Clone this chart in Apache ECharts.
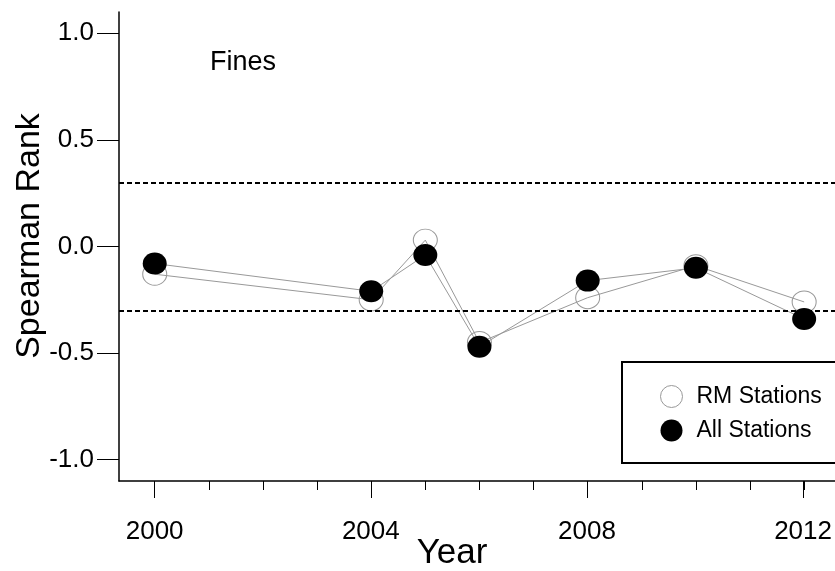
<!DOCTYPE html>
<html>
<head>
<meta charset="utf-8">
<script src="https://cdn.jsdelivr.net/npm/echarts@6/dist/echarts.min.js"></script>
<style>html,body{margin:0;padding:0;background:#fff;}#c{width:835px;height:571px;}</style>
</head>
<body>
<div id="c"></div>
<script>
const years = [2000, 2004, 2005, 2006, 2008, 2010, 2012];
const rmStations = [-0.13, -0.25, 0.03, -0.45, -0.24, -0.09, -0.26];
const allStations = [-0.08, -0.21, -0.04, -0.47, -0.16, -0.10, -0.34];
const thresholds = [0.3, -0.3];
const yTicks = [-1.0, -0.5, 0.0, 0.5, 1.0];
const xMinorTicks = [2000, 2001, 2002, 2003, 2004, 2005, 2006, 2007, 2008, 2009, 2010, 2011, 2012];
const xMajorTicks = [2000, 2004, 2008, 2012];
const seriesNames = ['RM Stations', 'All Stations'];
const panelLabel = 'Fines';
const xName = 'Year';
const yName = 'Spearman Rank';

const FONT = 'Liberation Sans, Arial, sans-serif';
const X_MIN = 1999.34, X_MAX = 2012.57, Y_MIN = -1.1, Y_MAX = 1.1;
const gridPos = {left: 119, right: 0, top: 12, bottom: 90};

const chart = echarts.init(document.getElementById('c'), null, {renderer: 'canvas'});
chart.setOption({
  animation: false,
  backgroundColor: '#fff',
  grid: [Object.assign({}, gridPos), Object.assign({}, gridPos)],
  xAxis: [{
    type: 'value', gridIndex: 0, min: X_MIN, max: X_MAX, position: 'bottom',
    axisLine: {show: true, onZero: false, lineStyle: {color: '#000', width: 1.5}},
    axisTick: {show: true, inside: false, length: 9, customValues: xMinorTicks, lineStyle: {color: '#000', width: 1}},
    axisLabel: {show: false},
    splitLine: {show: false}
  }, {
    type: 'value', gridIndex: 1, min: X_MIN, max: X_MAX, position: 'bottom',
    axisLine: {show: false, onZero: false},
    axisTick: {show: true, inside: false, length: 17, customValues: xMajorTicks, lineStyle: {color: '#000', width: 1}},
    axisLabel: {show: true, customValues: xMajorTicks, margin: 38, fontSize: 26, fontFamily: FONT, color: '#000', formatter: v => String(v)},
    splitLine: {show: false}
  }],
  yAxis: [{
    type: 'value', gridIndex: 0, min: Y_MIN, max: Y_MAX,
    axisLine: {show: true, onZero: false, lineStyle: {color: '#000', width: 1.5}},
    axisTick: {show: true, inside: false, length: 22, customValues: yTicks, lineStyle: {color: '#000', width: 1}},
    axisLabel: {show: true, customValues: yTicks, margin: 25, fontSize: 26, fontFamily: FONT, color: '#000', formatter: v => v.toFixed(1)},
    splitLine: {show: false}
  }, {
    type: 'value', gridIndex: 1, min: Y_MIN, max: Y_MAX, show: false
  }],
  legend: {
    orient: 'vertical', left: 655, top: 380, itemWidth: 24, itemHeight: 22, itemGap: 11,
    textStyle: {fontSize: 23, fontFamily: FONT, color: '#000', padding: [0, 0, 0, 8]},
    data: [
      {name: seriesNames[0], icon: 'circle', itemStyle: {color: 'rgba(255,255,255,0)', borderColor: '#999', borderWidth: 1}},
      {name: seriesNames[1], icon: 'circle', itemStyle: {color: '#000', borderWidth: 0}}
    ]
  },
  graphic: [
    {type: 'rect', shape: {x: 622, y: 362, width: 240, height: 101}, style: {fill: 'none', stroke: '#000', lineWidth: 2}, z: 1},
    {type: 'text', x: 210, y: 63, style: {text: panelLabel, fontSize: 27, fontFamily: FONT, fill: '#000', textVerticalAlign: 'middle'}},
    {type: 'text', x: 452, y: 553, style: {text: xName, fontSize: 35, fontFamily: FONT, fill: '#000', textAlign: 'center', textVerticalAlign: 'middle'}},
    {type: 'text', x: 30, y: 236, rotation: Math.PI / 2, style: {text: yName, fontSize: 34, fontFamily: FONT, fill: '#000', textAlign: 'center', textVerticalAlign: 'middle'}}
  ],
  series: [{
    name: seriesNames[0], type: 'line', xAxisIndex: 0, yAxisIndex: 0,
    data: years.map((y, i) => [y, rmStations[i]]),
    symbol: 'circle', symbolSize: [24, 22], showAllSymbol: true,
    lineStyle: {color: '#999', width: 1},
    itemStyle: {color: 'rgba(255,255,255,0)', borderColor: '#999', borderWidth: 1},
    z: 2,
    markLine: {
      silent: true, symbol: 'none', label: {show: false},
      lineStyle: {color: '#000', type: [5, 3], width: 2},
      data: thresholds.map(t => ({yAxis: t}))
    }
  }, {
    name: seriesNames[1], type: 'line', xAxisIndex: 0, yAxisIndex: 0,
    data: years.map((y, i) => [y, allStations[i]]),
    symbol: 'circle', symbolSize: [24, 22], showAllSymbol: true,
    lineStyle: {color: '#999', width: 1},
    itemStyle: {color: '#000', borderWidth: 0},
    z: 3
  }]
});
</script>
</body>
</html>
